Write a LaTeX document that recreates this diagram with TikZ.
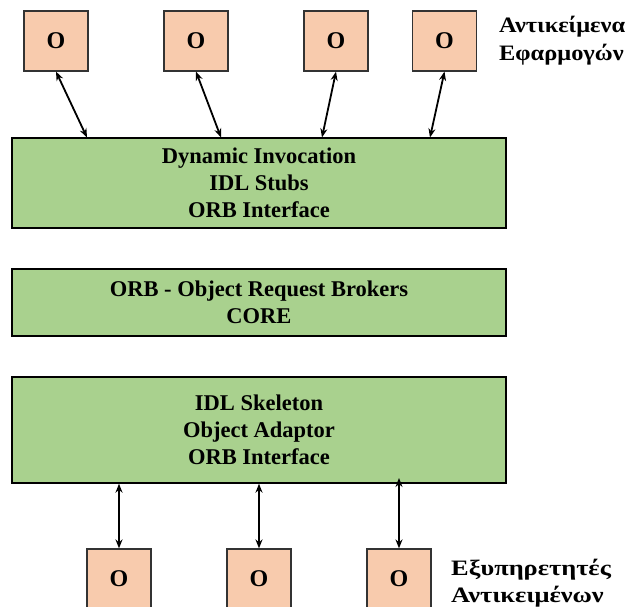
\documentclass[tikz,border=0pt]{standalone}
\usepackage{fontspec}
\setmainfont{Liberation Serif}
\newfontfamily\grk[FakeStretch=1.2]{Liberation Serif}
\newfontfamily\grknarrow[FakeStretch=1.11]{Liberation Serif}
\usetikzlibrary{arrows.meta}
\definecolor{gfill}{HTML}{A9D18E}
\definecolor{ofill}{HTML}{F8CBAD}
\begin{document}
\begin{tikzpicture}[x=1pt,y=-1pt,
 layer/.style={draw=black, line width=1.4pt, fill=gfill, minimum width=494pt, align=center, font=\bfseries\fontsize{22.5}{27}\selectfont, inner sep=0pt},
 obj/.style={draw=black!80, line width=1.2pt, fill=ofill, minimum width=64pt, minimum height=60pt, inner sep=0pt, font=\bfseries\fontsize{24}{24}\selectfont},
 arr/.style={{Stealth[length=9pt,width=7pt]}-{Stealth[length=9pt,width=7pt]}, line width=1.8pt},
 lbl/.style={align=left, font=\grk\bfseries\fontsize{22}{27}\selectfont, inner sep=0pt, anchor=west},
 lbltop/.style={lbl, font=\grknarrow\bfseries\fontsize{22}{28}\selectfont}]
\useasboundingbox (0,0) rectangle (633,607);
\clip (0,0) rectangle (633,607);
% application objects
\node[obj] (o1) at (56,41) {O};
\node[obj] (o2) at (196,41) {O};
\node[obj] (o3) at (336,41) {O};
\node[obj] (o4) at (444.5,41) {O};
\node[lbltop] (app) at (499,41) {Αντικείμενα\\Εφαρμογών};
% layers
\node[layer, minimum height=90pt] (dyn) at (259,183) {Dynamic Invocation\\IDL Stubs\\ORB Interface};
\node[layer, minimum height=67pt] (core) at (259,302.5) {ORB - Object Request Brokers\\CORE};
\node[layer, minimum height=106pt] (skel) at (259,430) {IDL Skeleton\\Object Adaptor\\ORB Interface};
% server objects
\node[obj] (b1) at (119,579) {O};
\node[obj] (b2) at (259,579) {O};
\node[obj] (b3) at (399,579) {O};
\node[lbl] (srv) at (451,583.5) {Εξυπηρετητές\\Αντικειμένων};
% arrow end points on the layers
\coordinate (t1) at (87,137.5);
\coordinate (t2) at (221,137.5);
\coordinate (t3) at (322,137.5);
\coordinate (t4) at (430,137.5);
\coordinate (s3) at (399,478);
\draw[arr] (o1.south) -- (t1);
\draw[arr] (o2.south) -- (t2);
\draw[arr] (o3.south) -- (t3);
\draw[arr] (o4.south) -- (t4);
\draw[arr] (skel.south -| b1) -- (b1.north);
\draw[arr] (skel.south -| b2) -- (b2.north);
\draw[arr] (s3) -- (b3.north);
\end{tikzpicture}
\end{document}
